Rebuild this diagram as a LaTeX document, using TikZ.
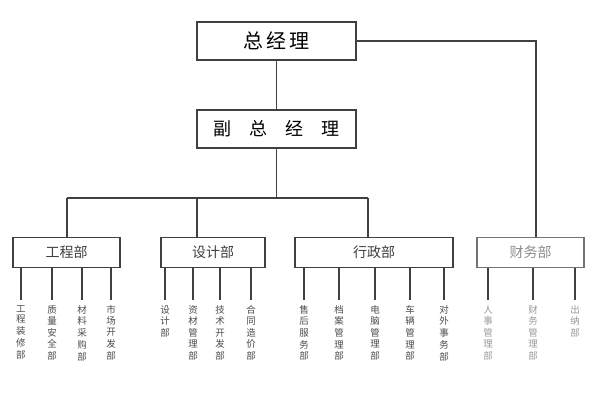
\documentclass[tikz,border=0pt]{standalone}
\usepackage{fontspec}
\setmainfont{Noto Sans CJK SC}
\begin{document}
\begin{tikzpicture}[x=1pt,y=-1pt,
  ln/.style={draw=black!75,line width=1.2pt},
  top/.style={ln,minimum width=159pt,minimum height=38pt,inner sep=0pt,font=\fontsize{20}{22}\selectfont},
  mid/.style={ln,minimum height=30pt,inner sep=0pt,font=\fontsize{14}{16}\selectfont,text=black!75},
  leafbox/.style={draw=black!80,double=white,double distance=1.2pt,line width=0.6pt},
  lt/.style={anchor=north,inner sep=0pt,font=\fontsize{9.5}{15}\selectfont,text=black!70}]
\useasboundingbox (0,0) rectangle (600,400);
\clip (0,0) rectangle (600,400);
\fill[white] (0,0) rectangle (600,400);
\node[top] (gm) at (276.5,41) {总\,经\,理};
\node[top,font=\fontsize{18}{20}\selectfont] (vgm) at (276.5,129) {副\quad 总\quad 经\quad 理};
\node[mid,minimum width=107pt] (gc) at (66.5,252.5) {工程部};
\node[mid,minimum width=104pt] (sj) at (213,252.5) {设计部};
\node[mid,minimum width=158pt] (xz) at (374,252.5) {行政部};
\node[mid,minimum width=107pt,text=black!45,draw=black!55] (cw) at (530.5,252.5) {财务部};
\coordinate (h1) at (67,198);
\coordinate (h2) at (197,198);
\coordinate (h3) at (368,198);
\coordinate (hc) at (276.5,198);
\coordinate (r1) at (536,41);
\draw[ln] (gm) -- (vgm);
\draw[ln] (vgm) -- (hc);
\draw[ln] (h1) -- (h3);
\draw[ln] (h1) -- (h1|-gc.north);
\draw[ln] (h2) -- (h2|-sj.north);
\draw[ln] (h3) -- (h3|-xz.north);
\draw[ln] (gm.east) -- (r1) -- (r1|-cw.north);
\foreach \x/\t/\n/\p in {
 21/工\\程\\装\\修\\部/a1/gc, 52/质\\量\\安\\全\\部/a2/gc, 82/材\\料\\采\\购\\部/a3/gc, 111/市\\场\\开\\发\\部/a4/gc,
 165/设\\计\\部/b1/sj, 193/资\\材\\管\\理\\部/b2/sj, 220/技\\术\\开\\发\\部/b3/sj, 251/合\\同\\造\\价\\部/b4/sj,
 304/售\\后\\服\\务\\部/c1/xz, 339/档\\案\\管\\理\\部/c2/xz, 375/电\\脑\\管\\理\\部/c3/xz, 410/车\\辆\\管\\理\\部/c4/xz, 444/对\\外\\事\\务\\部/c5/xz}{
  \coordinate (\n) at (\x,300);
  \draw[leafbox] ({\x-10},300) rectangle ({\x+10},412);
  \node[lt] at (\x,305) {\shortstack{\t}};
  \draw[ln] (\n) -- (\n|-\p.south);
}
\foreach \x/\t/\n in {488/人\\事\\管\\理\\部/d1, 533/财\\务\\管\\理\\部/d2, 575/出\\纳\\部/d3}{
  \coordinate (\n) at (\x,300);
  \draw[leafbox,draw=black!60] ({\x-10},300) rectangle ({\x+10},412);
  \node[lt,text=black!40] at (\x,305) {\shortstack{\t}};
  \draw[ln] (\n) -- (\n|-cw.south);
}
\end{tikzpicture}
\end{document}
